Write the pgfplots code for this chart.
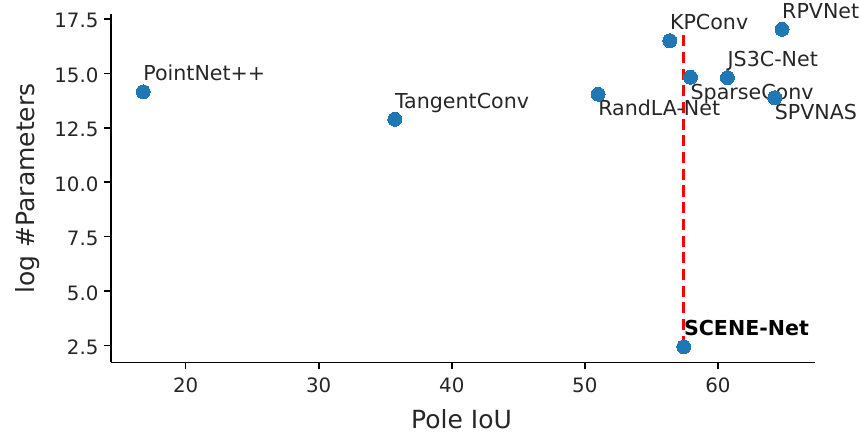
\documentclass[border=0pt]{standalone}
\usepackage{fontspec}
\setmainfont{DejaVu Sans}
\usepackage{pgfplots}
\pgfplotsset{compat=1.18}
\definecolor{mplblue}{HTML}{1F77B4}
\begin{document}
\begin{tikzpicture}
\begin{axis}[
  scale only axis, width=704pt, height=348.2pt,
  xmin=14.39, xmax=67.3, ymin=1.72, ymax=17.71,
  axis x line*=bottom, axis y line*=left,
  axis line style={-, line width=1.6pt, black},
  xtick={20,30,40,50,60}, ytick={2.5,5,7.5,10,12.5,15,17.5},
  /pgf/number format/assume math mode=true,
  tick align=outside, major tick length=7pt,
  tick style={line width=1.6pt, black},
  tick label style={font=\fontsize{19.8}{24}\selectfont, text=black!85},
  xticklabel style={yshift=-4.5pt},
  yticklabel style={xshift=-2pt, yshift=-2pt, /pgf/number format/.cd, fixed, fixed zerofill, precision=1},
  xlabel={Pole IoU}, ylabel={log \#Parameters},
  label style={font=\fontsize{25}{30}\selectfont, text=black!85},
  xlabel style={at={(axis description cs:0.498,-0.189)}, anchor=base},
  ylabel style={at={(axis description cs:-0.108,0.5)}, anchor=base, rotate=0},
  clip=false,
]
\coordinate (bl) at (rel axis cs:0,0);
\coordinate (tr) at (rel axis cs:1,1);
\addplot[only marks, mark=*, mark size=7pt, mark options={fill=mplblue, draw=mplblue, line width=0pt}] coordinates {
  (16.81,14.15) (35.72,12.89) (51.0,14.04) (56.39,16.50) (57.94,14.82)
  (60.72,14.80) (64.27,13.88) (64.82,17.02) (57.44,2.44)
};
\addplot[red, line width=3pt, dash pattern=on 11.1pt off 5.6pt] coordinates {(57.39,2.44) (57.39,16.88)};
\begin{scope}[every node/.style={anchor=base west, inner sep=0pt, font=\fontsize{20.6}{24}\selectfont, text=black!85}]
\node at (axis cs:16.81,14.65) {PointNet++};
\node at (axis cs:35.72,13.39) {TangentConv};
\node at (axis cs:51.0,13.04) {RandLA-Net};
\node at (axis cs:56.39,17.00) {KPConv};
\node at (axis cs:57.94,13.82) {SparseConv};
\node at (axis cs:60.72,15.30) {JS3C-Net};
\node at (axis cs:64.27,12.88) {SPVNAS};
\node at (axis cs:64.82,17.52) {RPVNet};
\node[text=black] at (axis cs:57.44,2.94) {\bfseries SCENE-Net};
\end{scope}
\end{axis}
\pgfresetboundingbox
\path ([shift={(-111pt,-71.5pt)}]bl) rectangle ([shift={(46pt,14.3pt)}]tr);
\end{tikzpicture}
\end{document}
